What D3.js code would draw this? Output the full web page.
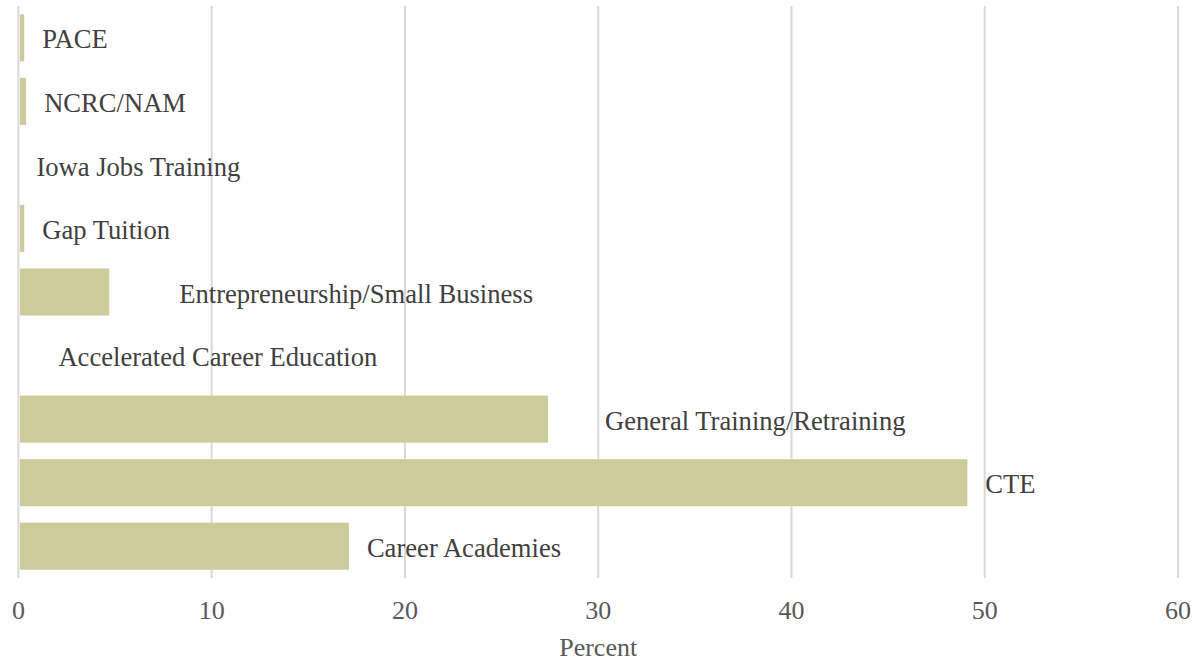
<!DOCTYPE html>
<html>
<head>
<meta charset="utf-8">
<script src="https://cdn.jsdelivr.net/npm/d3@7"></script>
<style>
  body { margin: 0; background: #fff; }
  svg text { font-family: "Liberation Serif", "Times New Roman", serif; }
</style>
</head>
<body>
<svg id="chart" width="1194" height="662"></svg>
<script>
// data, top row first
var programs = ["PACE", "NCRC/NAM", "Iowa Jobs Training", "Gap Tuition",
    "Entrepreneurship/Small Business", "Accelerated Career Education",
    "General Training/Retraining", "CTE", "Career Academies"];
var percents = [0.3, 0.4, 0, 0.3, 4.7, 0, 27.4, 49.1, 17.1];
var xTicks = [0, 10, 20, 30, 40, 50, 60];

// some labels were pushed right in the original (px)
var labelNudge = [0, 0, 0, 0, 52, 22, 39, 0, 0];

var svg = d3.select("#chart"),
    top_ = 6, bottom = 578;

var x = d3.scaleLinear().domain([0, 60]).range([18.4, 1178]);
var y = d3.scaleBand().domain(programs).range([top_, bottom])
    .paddingInner(0.26).paddingOuter(0.13);

// gridlines
svg.append("g").selectAll("line")
    .data(xTicks)
    .join("line")
    .attr("x1", function(d) { return x(d); })
    .attr("x2", function(d) { return x(d); })
    .attr("y1", top_)
    .attr("y2", bottom)
    .attr("stroke", "#d9d9d9")
    .attr("stroke-width", 2);

// bars
svg.append("g").selectAll("rect")
    .data(percents)
    .join("rect")
    .attr("x", x(0) + 1.5)
    .attr("y", function(d, i) { return y(programs[i]); })
    .attr("width", function(d) { return Math.max(0, x(d) - x(0) - 1.5); })
    .attr("height", y.bandwidth())
    .attr("fill", "#cccb99");

// bar labels
svg.append("g").selectAll("text")
    .data(percents)
    .join("text")
    .attr("x", function(d, i) { return x(d) + 18 + labelNudge[i]; })
    .attr("y", function(d, i) { return y(programs[i]) + y.bandwidth() / 2; })
    .attr("dy", "0.4em")
    .attr("font-size", 26.6)
    .attr("fill", "#404040")
    .text(function(d, i) { return programs[i]; });

// x axis tick labels
svg.append("g").selectAll("text")
    .data(xTicks)
    .join("text")
    .attr("x", function(d) { return x(d); })
    .attr("y", 610)
    .attr("dy", "0.35em")
    .attr("text-anchor", "middle")
    .attr("font-size", 26)
    .attr("fill", "#595959")
    .text(function(d) { return d; });

svg.append("text")
    .attr("x", (x(0) + x(60)) / 2)
    .attr("y", 647)
    .attr("dy", "0.35em")
    .attr("text-anchor", "middle")
    .attr("font-size", 26)
    .attr("fill", "#595959")
    .text("Percent");
</script>
</body>
</html>
